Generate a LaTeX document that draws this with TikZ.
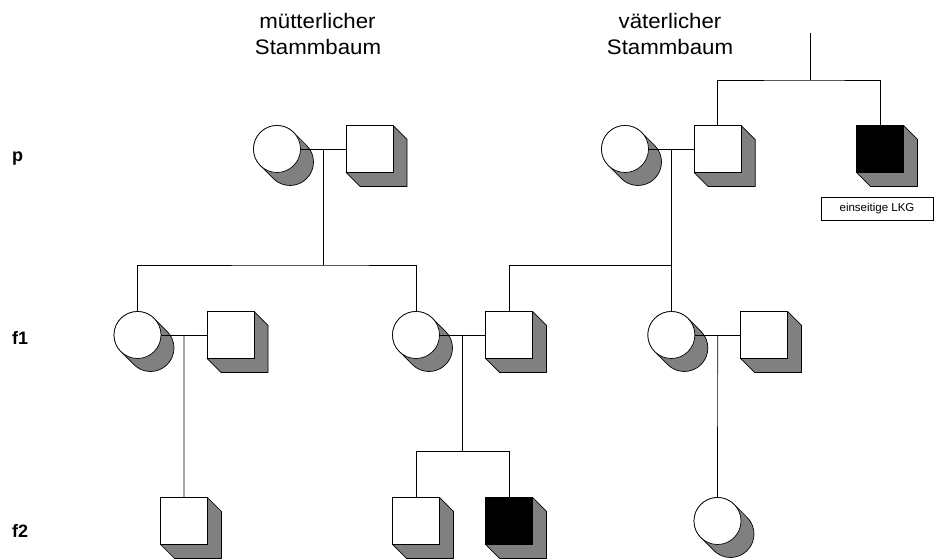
\documentclass[tikz,border=0pt]{standalone}
\usepackage{fontspec}
\setmainfont{Liberation Sans}
\newfontfamily\headfont[FakeStretch=1.06]{Liberation Sans}
\usetikzlibrary{calc}
\definecolor{shadowgray}{RGB}{128,128,128}
\tikzset{
  shd/.style={fill=shadowgray, draw=black, line width=0.7pt, line join=round},
  fem/.style={circle, draw=black, fill=white, line width=0.7pt, minimum size=47pt, inner sep=0pt},
  male/.style={rectangle, draw=black, fill=white, line width=0.7pt, minimum size=47pt, inner sep=0pt},
  link/.style={draw=black, line width=0.7pt},
  head/.style={font=\headfont\fontsize{21}{26}\selectfont, anchor=base, inner sep=0pt},
  gen/.style={font=\fontsize{18}{22}\selectfont\bfseries, anchor=base west, inner sep=0pt},
  labelbox/.style={draw=black, line width=0.6pt, minimum width=112pt, minimum height=23pt, inner sep=0pt, font=\fontsize{11.5}{13}\selectfont},
}
\newcommand\femnode[4][white]{%
  \begin{scope}[shift={(#3,#4)}]
    \filldraw[shd] (45:23.5pt) -- ++(13pt,-13pt) arc[start angle=45,end angle=-135,radius=23.5pt] -- (225:23.5pt) arc[start angle=225,end angle=45,radius=23.5pt] -- cycle;
  \end{scope}
  \node[fem,fill=#1] (#2) at (#3,#4) {};}
\newcommand\malenode[4][white]{%
  \begin{scope}[shift={(#3,#4)}]
    \filldraw[shd] (23.5pt,23.5pt) -- (37.5pt,9.5pt) -- (37.5pt,-37.5pt) -- (-9.5pt,-37.5pt) -- (-23.5pt,-23.5pt) -- cycle;
  \end{scope}
  \node[male,fill=#1] (#2) at (#3,#4) {};}
\begin{document}
\begin{tikzpicture}[x=1pt,y=1pt]
\useasboundingbox (0,0) rectangle (936,559);

% headings
\node[head] (h1a) at (317.5,530.7) {mütterlicher};
\node[head] (h1b) at (318,504.7) {Stammbaum};
\node[head] (h2a) at (670,530.7) {väterlicher};
\node[head] (h2b) at (670,504.7) {Stammbaum};

% generation labels
\node[gen] (gp) at (12,397.3) {p};
\node[gen] (gf1) at (12,214) {f1};
\node[gen] (gf2) at (12,21) {f2};

% P generation
\femnode{mc}{277}{410}
\malenode{ms}{369.5}{410}
\femnode{pc}{625}{410}
\malenode{ps}{717.7}{410}
\malenode[black]{ps2}{880}{410}
\node[labelbox] (lkg) at (877,350) {einseitige LKG};

% F1 generation
\femnode{c1}{137.5}{224}
\malenode{s1}{230.5}{224}
\femnode{c2}{416}{224}
\malenode{s2}{509}{224}
\femnode{c3}{671.35}{224}
\malenode{s3}{764}{224}

% F2 generation
\malenode{s4}{184}{38}
\malenode{s5}{416}{38}
\malenode[black]{s6}{509}{38}
\femnode{c4}{717.5}{38}

% helper rows
\coordinate (row0) at (0,479);
\coordinate (row1) at (0,294);
\coordinate (row2) at (0,107.3);
\coordinate (top) at (810,526);

% paternal grandparents line
\draw[link] (top) -- (top |- row0);
\draw[link] (ps) |- (top |- row0) -| (ps2);

% P couples
\draw[link] (mc) -- (ms);
\coordinate (mj) at ($(mc.east)!0.5!(ms.west)$);
\draw[link] (mj) -- (mj |- row1);
\draw[link] (c1) |- (mj |- row1) -| (c2);

\draw[link] (pc) -- (ps);
\coordinate (pj) at ($(pc.east)!0.5!(ps.west)$);
\draw[link] (c3) -- (c3 |- pj);
\draw[link] (s2) |- (c3 |- row1);

% F1 couples
\draw[link] (c1) -- (s1);
\coordinate (j1) at ($(c1.east)!0.5!(s1.west)$);
\draw[link] (j1) -- (s4);

\draw[link] (c2) -- (s2);
\coordinate (j2) at ($(c2.east)!0.5!(s2.west)$);
\draw[link] (j2) -- (j2 |- row2);
\draw[link] (s5) |- (j2 |- row2) -| (s6);

\draw[link] (c3) -- (s3);
\coordinate (j3) at ($(c3.east)!0.5!(s3.west)$);
\draw[link] (j3) -- (c4);
\end{tikzpicture}
\end{document}
